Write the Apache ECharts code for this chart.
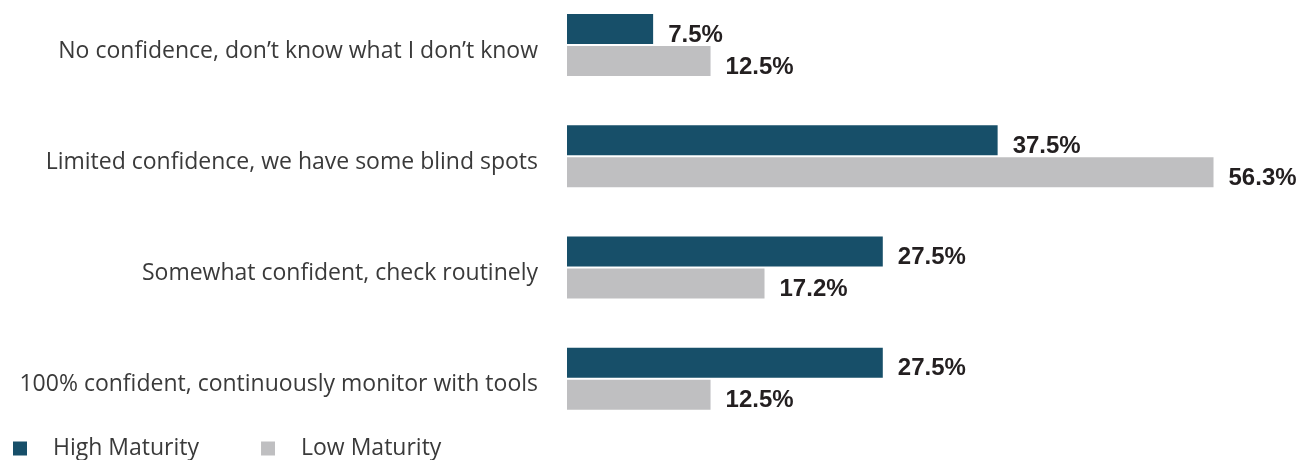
<!DOCTYPE html>
<html>
<head>
<meta charset="utf-8">
<script src="https://cdn.jsdelivr.net/npm/echarts@6/dist/echarts.min.js"></script>
<style>html,body{margin:0;padding:0;background:#fff}#c{width:1299px;height:460px}</style>
</head>
<body>
<div id="c"></div>
<script>
const categories = [
  "No confidence, don\u2019t know what I don\u2019t know",
  "Limited confidence, we have some blind spots",
  "Somewhat confident, check routinely",
  "100% confident, continuously monitor with tools"
];
const seriesNames = ["High Maturity", "Low Maturity"];
const highMaturity = [7.5, 37.5, 27.5, 27.5];
const lowMaturity = [12.5, 56.3, 17.2, 12.5];

const chart = echarts.init(document.getElementById('c'));
const labelStyle = {
  show: true,
  position: 'right',
  distance: 15,
  offset: [0, 6],
  formatter: p => p.value.toFixed(1) + '%',
  fontFamily: 'Liberation Sans',
  fontWeight: 'bold',
  fontSize: 24,
  color: '#231f20'
};
chart.setOption({
  animation: false,
  grid: { left: 567, right: 43, top: 45, bottom: 81.3, containLabel: false },
  xAxis: { type: 'value', min: 0, max: 60, show: false },
  yAxis: {
    type: 'category',
    data: categories,
    inverse: true,
    boundaryGap: false,
    axisLine: { show: false },
    axisTick: { show: false },
    splitLine: { show: false },
    axisLabel: {
      margin: 29,
      fontFamily: 'Open Sans',
      fontSize: 23,
      color: '#3a3a3a',
      verticalAlign: 'top',
      lineHeight: 12
    }
  },
  legend: {
    left: 13,
    top: 437,
    padding: 0,
    icon: 'rect',
    itemWidth: 14,
    itemHeight: 14,
    itemGap: 62,
    textStyle: {
      fontFamily: 'Open Sans',
      fontSize: 23,
      color: '#3a3a3a',
      padding: [0, 0, 0, 21]
    },
    data: seriesNames
  },
  series: [
    {
      name: seriesNames[0],
      type: 'bar',
      data: highMaturity,
      barWidth: 30,
      barGap: '7%',
      itemStyle: { color: '#174f69' },
      label: labelStyle
    },
    {
      name: seriesNames[1],
      type: 'bar',
      data: lowMaturity,
      barWidth: 30,
      barGap: '7%',
      itemStyle: { color: '#bfbfc1' },
      label: labelStyle
    }
  ]
});
</script>
</body>
</html>
